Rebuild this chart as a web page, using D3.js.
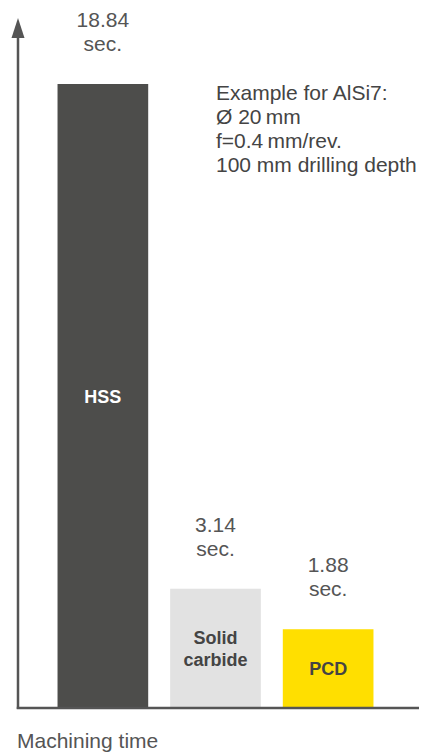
<!DOCTYPE html>
<html>
<head>
<meta charset="utf-8">
<script src="https://cdn.jsdelivr.net/npm/d3@7"></script>
<style>
  body { margin: 0; background: #fff; }
  svg text { font-family: "Liberation Sans", Arial, sans-serif; }
</style>
</head>
<body>
<div id="chart"></div>
<script>
var TOOLS = ["HSS", "Solid carbide", "PCD"];
var TIMES = [18.84, 3.14, 1.88];
var TOOL_LABELS = [["HSS"], ["Solid", "carbide"], ["PCD"]];
var COLORS = ["#4d4d4b", "#e2e2e2", "#ffdf00"];
var LABEL_COLORS = ["#ffffff", "#444444", "#444444"];
var NOTE_LINES = ["Example for AlSi7:", "\u00d8 20\u2009mm", "f=0.4\u2009mm/rev.", "100 mm drilling depth"];
var AXIS_TITLE = "Machining time";

var W = 424, H = 756;
var svg = d3.select("#chart").append("svg").attr("width", W).attr("height", H);

var x0 = 18, baseY = 708;

var x = d3.scaleBand().domain(TOOLS).range([35, 396]).paddingInner(0.195).paddingOuter(0.2);
// bars in the source do not start from zero, an offset domain reproduces that
var y = d3.scaleLinear().domain([-0.57, 18.84]).range([baseY, 84]);

var g = svg.append("g");

g.selectAll("rect.bar")
  .data(TIMES).enter()
  .append("rect")
  .attr("class", "bar")
  .attr("x", function (d, i) { return x(TOOLS[i]); })
  .attr("width", x.bandwidth())
  .attr("y", function (d) { return y(d); })
  .attr("height", function (d) { return baseY - y(d); })
  .attr("fill", function (d, i) { return COLORS[i]; });

/* value labels above bars */
TIMES.forEach(function (v, i) {
  var cx = x(TOOLS[i]) + x.bandwidth() / 2;
  var t = g.append("text")
    .attr("text-anchor", "middle")
    .attr("fill", "#555")
    .attr("font-size", 21);
  t.append("tspan").attr("x", cx).attr("y", y(v) - 57).text(v.toFixed(2));
  t.append("tspan").attr("x", cx).attr("y", y(v) - 33).text("sec.");
});

/* tool names inside bars */
TOOL_LABELS.forEach(function (lines, i) {
  var cx = x(TOOLS[i]) + x.bandwidth() / 2;
  var mid = (y(TIMES[i]) + baseY) / 2;
  var t = g.append("text")
    .attr("text-anchor", "middle")
    .attr("fill", LABEL_COLORS[i])
    .attr("font-size", 18)
    .attr("font-weight", "bold");
  lines.forEach(function (line, j) {
    t.append("tspan")
      .attr("x", cx)
      .attr("y", mid + 6.5 + (j - (lines.length - 1) / 2) * 22)
      .text(line);
  });
});

/* axes */
svg.append("line")
  .attr("x1", x0).attr("x2", x0)
  .attr("y1", 36).attr("y2", baseY + 1)
  .attr("stroke", "#555").attr("stroke-width", 2.5);
svg.append("line")
  .attr("x1", x0 - 1.25).attr("x2", 419)
  .attr("y1", baseY).attr("y2", baseY)
  .attr("stroke", "#555").attr("stroke-width", 2.5);
svg.append("path")
  .attr("d", "M" + x0 + ",18L" + (x0 + 6.5) + ",38L" + (x0 - 6.5) + ",38Z")
  .attr("fill", "#555");

/* note */
var note = svg.append("text").attr("fill", "#444").attr("font-size", 21);
NOTE_LINES.forEach(function (line, i) {
  note.append("tspan").attr("x", 216).attr("y", 100 + i * 24).text(line);
});

svg.append("text")
  .attr("x", 17).attr("y", 748)
  .attr("fill", "#555").attr("font-size", 21)
  .text(AXIS_TITLE);
</script>
</body>
</html>
